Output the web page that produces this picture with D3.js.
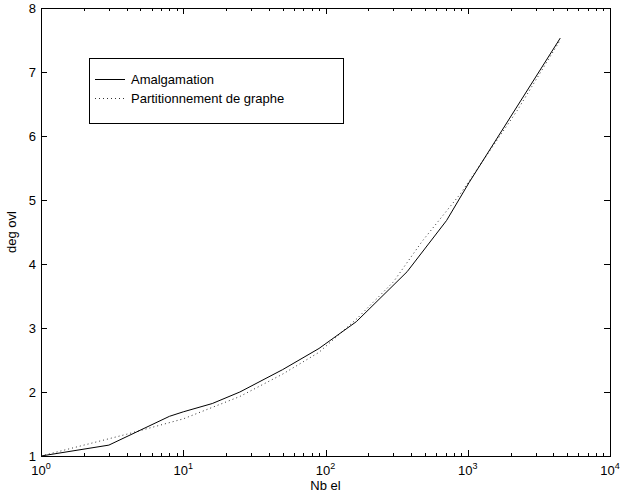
<!DOCTYPE html>
<html>
<head>
<meta charset="utf-8">
<script src="https://cdn.jsdelivr.net/npm/d3@7"></script>
<style>
  body { margin: 0; background: #fff; }
  text { font-family: "Liberation Sans", Arial, sans-serif; fill: #000; }
</style>
</head>
<body>
<svg id="chart" width="621" height="499"></svg>
<script>
// series data
var amalgX = [1, 3, 8, 10, 16, 25, 50, 90, 165, 375, 710, 1020, 4470];
var amalgY = [1.0, 1.17, 1.62, 1.69, 1.82, 2.0, 2.35, 2.68, 3.1, 3.88, 4.68, 5.27, 7.53];
var partX = [1, 1.7, 4, 10, 25, 50, 90, 167, 300, 480, 890, 2230, 4470];
var partY = [1.0, 1.13, 1.34, 1.58, 1.93, 2.28, 2.62, 3.15, 3.72, 4.36, 5.1, 6.4, 7.5];
var seriesNames = ["Amalgamation", "Partitionnement de graphe"];
var xTickExp = [0, 1, 2, 3, 4];
var yTicks = [1, 2, 3, 4, 5, 6, 7, 8];

var margin = {top: 8, right: 11, bottom: 43, left: 41},
    width = 621 - margin.left - margin.right,
    height = 499 - margin.top - margin.bottom;

var x = d3.scaleLog().domain([1, 10000]).range([0, width]);
var y = d3.scaleLinear().domain([1, 8]).range([height, 0]);

var svg = d3.select("#chart")
  .append("g")
    .attr("transform", "translate(" + margin.left + "," + margin.top + ")");

// minor ticks for log axis
var minor = [];
xTickExp.slice(0, -1).forEach(function(e) {
  for (var k = 2; k <= 9; k++) minor.push(k * Math.pow(10, e));
});

var ticks = svg.append("g").attr("stroke", "#000").attr("stroke-width", 1);
minor.forEach(function(v) {
  var px = Math.round(x(v)) + 0.5;
  ticks.append("line").attr("x1", px).attr("x2", px).attr("y1", height).attr("y2", height - 3);
  ticks.append("line").attr("x1", px).attr("x2", px).attr("y1", 0).attr("y2", 3);
});
xTickExp.forEach(function(e) {
  var px = Math.round(x(Math.pow(10, e))) + 0.5;
  ticks.append("line").attr("x1", px).attr("x2", px).attr("y1", height).attr("y2", height - 6);
  ticks.append("line").attr("x1", px).attr("x2", px).attr("y1", 0).attr("y2", 6);
});
yTicks.forEach(function(v) {
  var py = Math.round(y(v)) + 0.5;
  ticks.append("line").attr("x1", 0).attr("x2", 6).attr("y1", py).attr("y2", py);
  ticks.append("line").attr("x1", width).attr("x2", width - 6).attr("y1", py).attr("y2", py);
});

// frame
svg.append("rect")
  .attr("x", 0.5).attr("y", 0.5)
  .attr("width", width).attr("height", height)
  .attr("fill", "none").attr("stroke", "#000");

// tick labels
yTicks.forEach(function(v) {
  svg.append("text")
    .attr("x", -5).attr("y", y(v)).attr("dy", "0.35em")
    .attr("text-anchor", "end").attr("font-size", 13)
    .text(v);
});
xTickExp.forEach(function(e) {
  var t = svg.append("text")
    .attr("x", x(Math.pow(10, e))).attr("y", height + 19)
    .attr("text-anchor", "middle").attr("font-size", 13);
  t.append("tspan").text("10");
  t.append("tspan").attr("font-size", 9).attr("dy", -6).text(e);
});

// axis titles
svg.append("text")
  .attr("x", width / 2).attr("y", height + 34)
  .attr("text-anchor", "middle").attr("font-size", 13)
  .text("Nb el");
svg.append("text")
  .attr("transform", "translate(" + (-25) + "," + (height / 2) + ") rotate(-90)")
  .attr("text-anchor", "middle").attr("font-size", 13)
  .text("deg ovl");

// lines
var line = d3.line()
  .x(function(d) { return x(d[0]); })
  .y(function(d) { return y(d[1]); });

svg.append("path")
  .datum(partX.map(function(v, i) { return [v, partY[i]]; }))
  .attr("fill", "none").attr("stroke", "#333").attr("stroke-width", 1)
  .attr("stroke-dasharray", "1,3")
  .attr("d", line);

svg.append("path")
  .datum(amalgX.map(function(v, i) { return [v, amalgY[i]]; }))
  .attr("fill", "none").attr("stroke", "#000").attr("stroke-width", 1)
  .attr("d", line);

// legend
var lg = svg.append("g").attr("transform", "translate(48,50)");
lg.append("rect")
  .attr("x", 0.5).attr("y", 0.5).attr("width", 254).attr("height", 65)
  .attr("fill", "#fff").attr("stroke", "#000");
seriesNames.forEach(function(name, i) {
  var ly = 21 + i * 19;
  lg.append("line")
    .attr("x1", 6).attr("x2", 36).attr("y1", ly + 0.5).attr("y2", ly + 0.5)
    .attr("stroke", i === 1 ? "#333" : "#000")
    .attr("stroke-dasharray", i === 1 ? "1,3" : null);
  lg.append("text")
    .attr("x", 42).attr("y", ly).attr("dy", "0.35em")
    .attr("font-size", 13)
    .text(name);
});
</script>
</body>
</html>
